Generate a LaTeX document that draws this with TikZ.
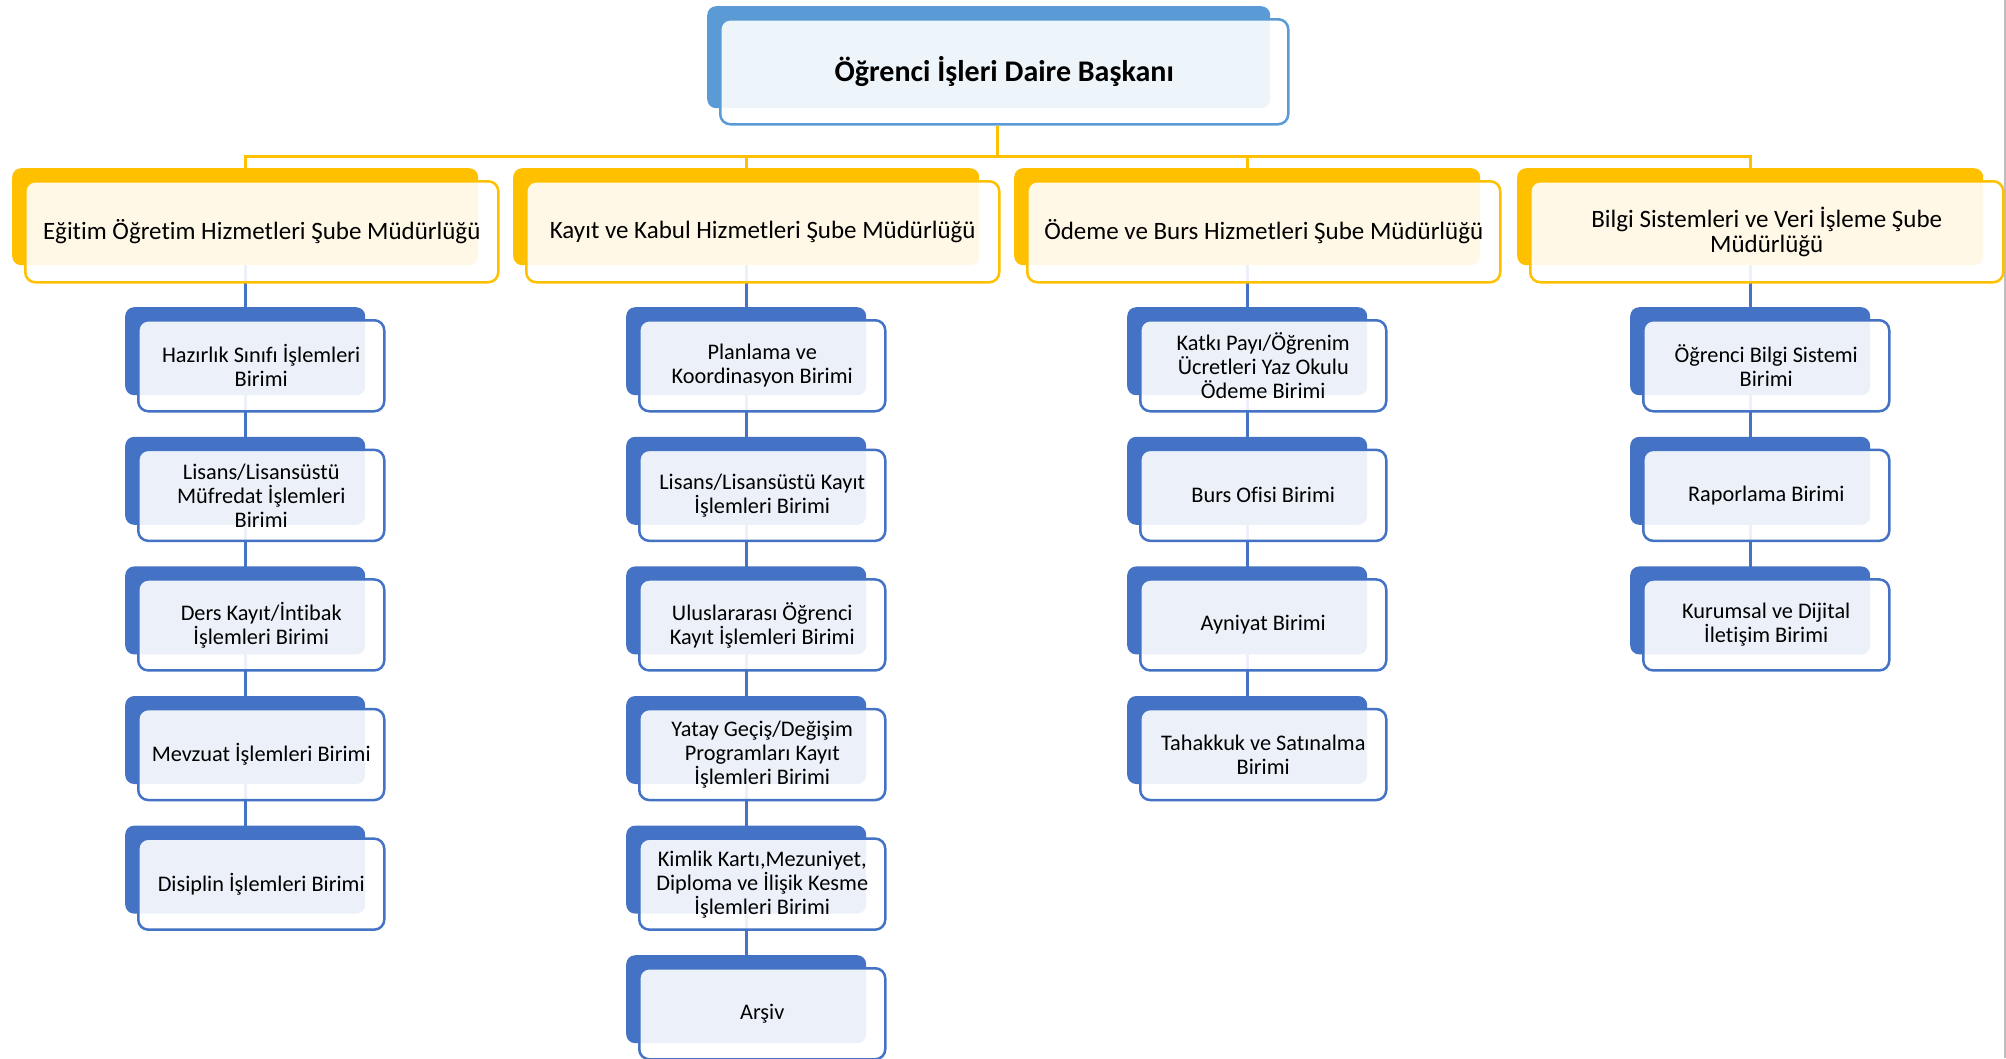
\documentclass[tikz,border=0pt]{standalone}
\usepackage{fontspec}
\setmainfont{Carlito}[Ligatures=NoCommon]
\usetikzlibrary{backgrounds}
\definecolor{hdblue}{HTML}{5B9BD5}
\definecolor{ubblue}{HTML}{4472C4}
\definecolor{gold}{HTML}{FFC000}
\definecolor{edgegray}{HTML}{BDBDBD}
\tikzset{
  backbox/.style={draw=none, fill=#1, rounded corners=9pt, anchor=north west, inner sep=0pt},
  frontbox/.style={draw=#1, line width=2.5pt, fill=white, fill opacity=0.9, text opacity=1,
    rounded corners=10pt, anchor=north west, inner sep=0pt, align=center, text=black},
  yline/.style={draw=gold, line width=3pt},
  bline/.style={draw=ubblue, line width=3pt},
  headfont/.style={font=\fontsize{30}{34}\selectfont\bfseries},
  deptfont/.style={font=\fontsize{25}{24.5}\selectfont},
  unitfont/.style={font=\fontsize{22.3}{24}\selectfont},
}
% #1 name, #2 left, #3 top (px, downward), #4 colour, #5 font style, #6 text
\newcommand\unitbox[6]{%
  \node[backbox=#4, minimum width=\bw pt, minimum height=\bh pt] (#1-b) at (#2,-#3) {};
  \node[frontbox=#4, #5, minimum width=\fw pt, minimum height=\fh pt] (#1) at ({#2+\off},{-#3-\off}) {#6};
}
\begin{document}
\begin{tikzpicture}[x=1pt,y=1pt]
\useasboundingbox (0,0) rectangle (2006,-1058);
\draw[edgegray, line width=2pt] (2004.5,0) -- (2004.5,-1058);

% ---- level 1
\def\bw{563}\def\bh{102}\def\fw{568}\def\fh{105}\def\off{12}
\unitbox{top}{707}{6}{hdblue}{headfont}{Öğrenci İşleri Daire Başkanı}

% ---- level 2
\def\bw{466}\def\bh{97}\def\fw{473}\def\fh{101}\def\off{12}
\unitbox{da}{12}{168}{gold}{deptfont}{Eğitim Öğretim Hizmetleri Şube Müdürlüğü}
\unitbox{db}{513}{168}{gold}{deptfont}{Kayıt ve Kabul Hizmetleri Şube Müdürlüğü}
\unitbox{dc}{1014}{168}{gold}{deptfont}{Ödeme ve Burs Hizmetleri Şube Müdürlüğü}
\unitbox{dd}{1517}{168}{gold}{deptfont}{Bilgi Sistemleri ve Veri İşleme Şube\\Müdürlüğü}

% ---- level 3
\def\bw{240}\def\bh{88}\def\fw{246}\def\fh{91}\def\off{12}
\unitbox{a1}{125}{307}{ubblue}{unitfont}{Hazırlık Sınıfı İşlemleri\\Birimi}
\unitbox{a2}{125}{436.6}{ubblue}{unitfont}{Lisans/Lisansüstü\\Müfredat İşlemleri\\Birimi}
\unitbox{a3}{125}{566.2}{ubblue}{unitfont}{Ders Kayıt/İntibak\\İşlemleri Birimi}
\unitbox{a4}{125}{695.8}{ubblue}{unitfont}{Mevzuat İşlemleri Birimi}
\unitbox{a5}{125}{825.4}{ubblue}{unitfont}{Disiplin İşlemleri Birimi}

\unitbox{b1}{626}{307}{ubblue}{unitfont}{Planlama ve\\Koordinasyon Birimi}
\unitbox{b2}{626}{436.6}{ubblue}{unitfont}{Lisans/Lisansüstü Kayıt\\İşlemleri Birimi}
\unitbox{b3}{626}{566.2}{ubblue}{unitfont}{Uluslararası Öğrenci\\Kayıt İşlemleri Birimi}
\unitbox{b4}{626}{695.8}{ubblue}{unitfont}{Yatay Geçiş/Değişim\\Programları Kayıt\\İşlemleri Birimi}
\unitbox{b5}{626}{825.4}{ubblue}{unitfont}{Kimlik Kartı,Mezuniyet,\\Diploma ve İlişik Kesme\\İşlemleri Birimi}
\unitbox{b6}{626}{955}{ubblue}{unitfont}{Arşiv}

\unitbox{c1}{1127}{307}{ubblue}{unitfont}{Katkı Payı/Öğrenim\\Ücretleri Yaz Okulu\\Ödeme Birimi}
\unitbox{c2}{1127}{436.6}{ubblue}{unitfont}{Burs Ofisi Birimi}
\unitbox{c3}{1127}{566.2}{ubblue}{unitfont}{Ayniyat Birimi}
\unitbox{c4}{1127}{695.8}{ubblue}{unitfont}{Tahakkuk ve Satınalma\\Birimi}

\unitbox{e1}{1630}{307}{ubblue}{unitfont}{Öğrenci Bilgi Sistemi\\Birimi}
\unitbox{e2}{1630}{436.6}{ubblue}{unitfont}{Raporlama Birimi}
\unitbox{e3}{1630}{566.2}{ubblue}{unitfont}{Kurumsal ve Dijital\\İletişim Birimi}

\coordinate (bus) at (0,-156);
\coordinate (topx) at (997,0);

\begin{pgfonlayer}{background}
  \draw[yline] (topx |- top.south) -- (topx |- bus) -| (da-b.north);
  \draw[yline] (topx |- bus) -| (db-b.north);
  \draw[yline] (topx |- bus) -| (dc-b.north);
  \draw[yline] (topx |- bus) -| (dd-b.north);
  \draw[bline] (da-b.center) -- (a1-b.center);
  \draw[bline] (a1-b.center) -- (a2-b.center);
  \draw[bline] (a2-b.center) -- (a3-b.center);
  \draw[bline] (a3-b.center) -- (a4-b.center);
  \draw[bline] (a4-b.center) -- (a5-b.center);
  \draw[bline] (db-b.center) -- (b1-b.center);
  \draw[bline] (b1-b.center) -- (b2-b.center);
  \draw[bline] (b2-b.center) -- (b3-b.center);
  \draw[bline] (b3-b.center) -- (b4-b.center);
  \draw[bline] (b4-b.center) -- (b5-b.center);
  \draw[bline] (b5-b.center) -- (b6-b.center);
  \draw[bline] (dc-b.center) -- (c1-b.center);
  \draw[bline] (c1-b.center) -- (c2-b.center);
  \draw[bline] (c2-b.center) -- (c3-b.center);
  \draw[bline] (c3-b.center) -- (c4-b.center);
  \draw[bline] (dd-b.center) -- (e1-b.center);
  \draw[bline] (e1-b.center) -- (e2-b.center);
  \draw[bline] (e2-b.center) -- (e3-b.center);
\end{pgfonlayer}
\end{tikzpicture}
\end{document}
